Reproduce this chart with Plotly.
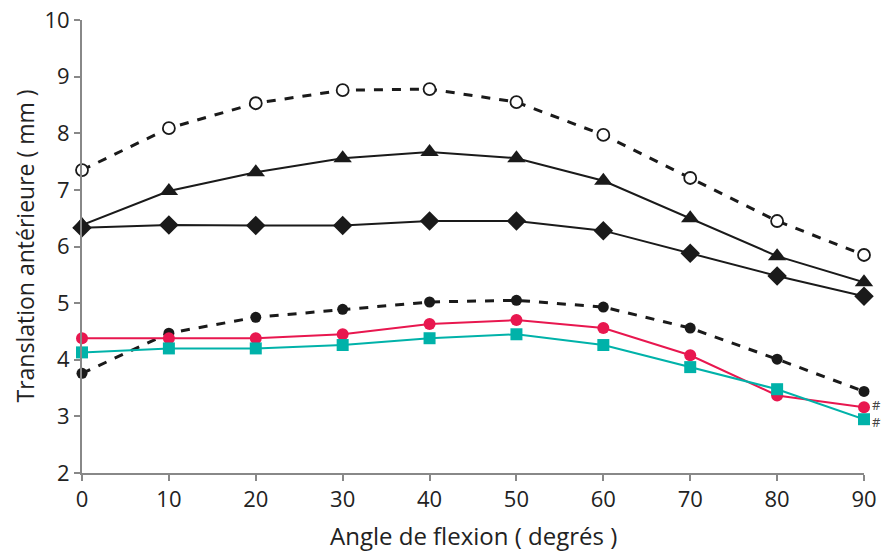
import plotly.graph_objects as go

angles = [0, 10, 20, 30, 40, 50, 60, 70, 80, 90]
open_circles = [7.35, 8.09, 8.53, 8.76, 8.78, 8.55, 7.97, 7.21, 6.45, 5.85]
triangles = [6.38, 6.98, 7.31, 7.56, 7.67, 7.56, 7.16, 6.50, 5.83, 5.37]
diamonds = [6.33, 6.38, 6.37, 6.37, 6.45, 6.45, 6.28, 5.88, 5.48, 5.12]
filled_circles = [3.76, 4.47, 4.75, 4.89, 5.02, 5.05, 4.93, 4.56, 4.01, 3.44]
red_circles = [4.38, 4.38, 4.38, 4.45, 4.63, 4.70, 4.56, 4.08, 3.37, 3.16]
teal_squares = [4.13, 4.20, 4.20, 4.26, 4.38, 4.45, 4.26, 3.87, 3.48, 2.95]

black = "#1a1a1a"
red = "#E8174F"
teal = "#00B2A9"
font = "Open Sans"

fig = go.Figure()
fig.add_trace(go.Scatter(x=angles, y=diamonds, mode="lines+markers",
                         line=dict(color=black, width=2),
                         marker=dict(symbol="diamond", size=15, color=black)))
fig.add_trace(go.Scatter(x=angles, y=triangles, mode="lines+markers",
                         line=dict(color=black, width=2),
                         marker=dict(symbol="triangle-up", size=16, color=black)))
fig.add_trace(go.Scatter(x=angles, y=open_circles, mode="lines+markers",
                         line=dict(color=black, width=3, dash="dash"),
                         marker=dict(symbol="circle", size=12, color="white",
                                     line=dict(color=black, width=1.8))))
fig.add_trace(go.Scatter(x=angles, y=filled_circles, mode="lines+markers",
                         line=dict(color=black, width=3, dash="dash"),
                         marker=dict(symbol="circle", size=11, color=black)))
fig.add_trace(go.Scatter(x=angles, y=red_circles, mode="lines+markers",
                         line=dict(color=red, width=2),
                         marker=dict(symbol="circle", size=12, color=red)))
fig.add_trace(go.Scatter(x=angles, y=teal_squares, mode="lines+markers",
                         line=dict(color=teal, width=2),
                         marker=dict(symbol="square", size=12, color=teal)))

for tr in fig.data:
    tr.cliponaxis = False

fig.add_annotation(x=90, y=red_circles[-1], text="#", showarrow=False, borderpad=0,
                   xanchor="left", xshift=7, yshift=2, font=dict(family=font, size=13, color="#444"))
fig.add_annotation(x=90, y=teal_squares[-1], text="#*", showarrow=False, borderpad=0,
                   xanchor="left", xshift=7, yshift=-3, font=dict(family=font, size=13, color="#444"))

# axis titles as annotations
fig.add_annotation(xref="paper", yref="paper", x=0.5, y=0, yshift=-62,
                   text="Angle de flexion ( degrés )", showarrow=False, borderpad=0,
                   xanchor="center", yanchor="middle",
                   font=dict(family=font, size=24, color="#222"))
fig.add_annotation(xref="paper", yref="paper", x=0, y=0.5, xshift=-58,
                   text="Translation antérieure ( mm )", showarrow=False, textangle=-90,
                   borderpad=0, xanchor="center", yanchor="middle",
                   font=dict(family=font, size=23, color="#222"))

axis_common = dict(showgrid=False, zeroline=False, showline=True, linecolor="#888",
                   linewidth=2, ticks="outside", tickcolor="#888", ticklen=6, tickwidth=2,
                   automargin=False, ticklabeloverflow="allow",
                   tickfont=dict(family=font, size=22, color="#222"))
fig.update_xaxes(range=[0, 90], tickvals=angles, ticktext=[str(a) for a in angles],
                 **axis_common)
fig.update_yaxes(range=[2, 10], tickvals=list(range(2, 11)),
                 **axis_common)

# page body has an 8px margin, so the figure is sized to fit the window
fig.update_layout(width=881, height=544, showlegend=False,
                  plot_bgcolor="white", paper_bgcolor="white",
                  margin=dict(l=74, r=25, t=12, b=79))
fig.write_html("out.html")
